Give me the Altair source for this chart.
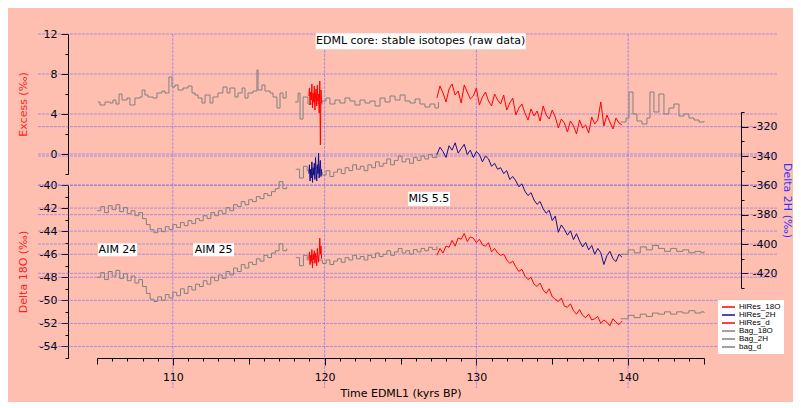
import altair as alt
import pandas as pd

# ---------------- series definitions ----------------
SERIES = ["HiRes_18O", "HiRes_2H", "HiRes_d", "Bag_18O", "Bag_2H", "bag_d"]
COLORS = ["#FF0000", "#10108C", "#FF0000", "#808080", "#808080", "#808080"]

# ---- Bag (low resolution, step) data ----
bagd_t1 = [105.05, 105.2, 105.53, 105.86, 106.05, 106.25, 106.45, 106.65, 106.98, 107.17,
           107.5, 107.83, 107.97, 108.16, 108.36, 108.69, 108.95, 109.28, 109.48, 109.74,
           109.94, 110.14, 110.34, 110.67, 111.0, 111.26, 111.46, 111.66, 111.92, 112.12,
           112.45, 112.64, 112.97, 113.3, 113.57, 113.76, 114.09, 114.29, 114.56, 114.75,
           114.95, 115.28, 115.54, 115.61, 115.87, 116.07, 116.4, 116.6, 116.86, 117.06,
           117.26, 117.46]
bagd_v1 = [5.2, 4.9, 5.2, 5.1, 5.4, 5.0, 6.0, 5.4, 5.6, 4.9,
           5.6, 5.7, 6.4, 5.9, 5.7, 5.6, 6.1, 6.3, 6.1, 7.7,
           6.7, 6.9, 6.4, 6.6, 6.8, 6.1, 5.9, 5.6, 5.1, 5.9,
           5.1, 5.7, 6.1, 6.7, 6.1, 6.6, 5.7, 6.1, 6.6, 5.6,
           6.1, 6.3, 8.4, 6.4, 6.9, 6.3, 6.1, 5.7, 4.6, 6.1,
           5.6, 6.3]
bagd_t2 = [118.05, 118.25, 118.38, 118.58, 118.9, 119.23, 119.56, 119.83, 120.09, 120.35,
           120.68, 121.01, 121.34, 121.67, 122.0, 122.33, 122.66, 122.99, 123.32, 123.65,
           123.98, 124.31, 124.64, 124.97, 125.3, 125.63, 125.96, 126.28, 126.61, 126.94,
           127.27, 127.5]
bagd_v2 = [5.2, 6.1, 3.5, 5.7, 5.0, 5.5, 5.0, 5.3, 5.6, 5.0,
           5.4, 5.1, 5.6, 5.3, 4.9, 5.4, 5.1, 5.3, 4.8, 5.6,
           5.2, 5.8, 5.4, 5.9, 5.3, 5.1, 5.5, 5.0, 4.7, 5.0,
           4.6, 5.2]
bagd_t3 = [139.5, 139.86, 140.06, 140.32, 140.58, 140.91, 141.24, 141.44,
           141.7, 142.03, 142.36, 142.69, 143.02, 143.35, 143.68, 144.01, 144.34, 144.67, 145.0]
bagd_v3 = [3.2, 3.6, 6.2, 4.0, 3.3, 3.0, 3.6, 6.2,
           4.2, 6.0, 4.0, 4.6, 5.0, 3.8, 4.0, 3.6, 3.4, 3.2, 3.3]

bag_t1 = [105.0, 105.25, 105.5, 105.75, 106.0, 106.25, 106.5, 106.75, 107.0, 107.25,
          107.5, 107.75, 108.0, 108.25, 108.5, 108.75, 109.0, 109.25, 109.5, 109.75,
          110.0, 110.25, 110.5, 110.75, 111.0, 111.25, 111.5, 111.75, 112.0, 112.25,
          112.5, 112.75, 113.0, 113.25, 113.5, 113.75, 114.0, 114.25, 114.5, 114.75,
          115.0, 115.25, 115.5, 115.75, 116.0, 116.25, 116.5, 116.75, 117.0, 117.25, 117.5]
bag2h_v1 = [-377.3, -374.5, -378.6, -373.9, -376.6, -373.2, -377.9, -375.2, -379.3, -377.3,
            -380.7, -378.6, -382.7, -386.8, -390.2, -392.3, -389.5, -391.6, -388.2, -390.2,
            -386.8, -388.8, -385.4, -387.5, -384.1, -386.1, -382.7, -384.1, -380.7, -382.7,
            -378.6, -380.7, -377.3, -379.3, -375.2, -377.3, -373.2, -374.5, -371.1, -373.2,
            -369.8, -371.1, -367.7, -369.1, -365.7, -367.0, -364.3, -362.3, -357.5, -362.3, -360.9]
bag18_v1 = [-48.0, -47.6, -48.2, -47.5, -47.9, -47.4, -48.1, -47.7, -48.3, -47.9,
            -48.5, -48.2, -48.8, -49.4, -49.9, -50.1, -49.7, -50.0, -49.5, -49.8,
            -49.3, -49.6, -49.0, -49.4, -48.8, -49.1, -48.6, -48.8, -48.3, -48.6,
            -48.0, -48.3, -47.8, -48.1, -47.5, -47.8, -47.2, -47.5, -46.9, -47.2,
            -46.7, -46.9, -46.4, -46.6, -46.1, -46.3, -45.9, -45.7, -45.1, -45.7, -45.5]

bag_t2 = [118.1, 118.35, 118.6, 118.85, 119.1, 119.35, 119.6, 119.85, 120.1, 120.35,
          120.6, 120.85, 121.1, 121.35, 121.6, 121.85, 122.1, 122.35, 122.6, 122.85,
          123.1, 123.35, 123.6, 123.85, 124.1, 124.35, 124.6, 124.85, 125.1, 125.35,
          125.6, 125.85, 126.1, 126.35, 126.6, 126.85, 127.1, 127.4]
bag2h_v2 = [-349, -355, -347, -350, -352, -348, -351, -353, -350, -354,
            -351, -349, -352, -348, -350, -346, -349, -347, -350, -346,
            -348, -344, -347, -345, -342, -346, -343, -340, -344, -342,
            -345, -341, -343, -340, -342, -339, -341, -338]
bag18_v2 = [-46.3, -47.0, -46.1, -46.5, -46.7, -46.2, -46.5, -46.8, -46.5, -46.9,
            -46.6, -46.4, -46.7, -46.3, -46.5, -46.1, -46.4, -46.2, -46.5, -46.1,
            -46.3, -45.9, -46.2, -46.0, -45.7, -46.1, -45.8, -45.5, -45.9, -45.7,
            -46.0, -45.6, -45.8, -45.5, -45.7, -45.4, -45.6, -45.3]

bag_t3 = [139.5, 140.0, 140.4, 140.8, 141.2, 141.6, 142.0, 142.4, 142.8, 143.2, 143.6,
          144.0, 144.4, 144.8, 145.0]
bag2h_v3 = [-407, -404, -406, -402, -404, -401, -403, -405, -403, -405, -404,
            -406, -405, -406, -405]
bag18_v3 = [-51.6, -51.3, -51.5, -51.2, -51.4, -51.1, -51.2, -51.0, -51.2, -51.0, -51.1,
            -50.9, -51.1, -51.0, -51.1]

# ---- HiRes data ----
hr_t1 = [118.96, 119.0, 119.04, 119.08, 119.12, 119.16, 119.2, 119.24, 119.28, 119.32, 119.36,
         119.4, 119.44, 119.48, 119.52, 119.56, 119.6, 119.64, 119.68, 119.72, 119.76, 119.8]
hrd_v1 = [5.8, 6.6, 4.9, 6.2, 5.4, 7.0, 4.6, 6.1, 5.2, 6.8, 4.4,
          5.9, 6.5, 4.8, 6.9, 5.3, 6.0, 4.1, 7.3, 0.9, 6.4, 5.1]
hr2h_v1 = [-352, -346, -357, -349, -355, -344, -358, -348, -353, -345, -356,
           -341, -350, -357, -346, -352, -338, -355, -347, -343, -354, -349]
hr18_v1 = [-46.4, -45.8, -46.9, -46.1, -46.6, -45.6, -47.2, -46.0, -46.5, -45.7, -46.8,
           -45.9, -46.3, -47.0, -45.5, -46.2, -46.7, -45.9, -44.6, -46.0, -45.3, -46.4]

hr_t2 = [127.4, 127.6, 127.8, 128.0, 128.2, 128.4, 128.6, 128.8, 129.0, 129.2,
         129.4, 129.6, 129.8, 130.0, 130.2, 130.4, 130.6, 130.8, 131.0, 131.2,
         131.4, 131.6, 131.8, 132.0, 132.2, 132.4, 132.6, 132.8, 133.0, 133.2,
         133.4, 133.6, 133.8, 134.0, 134.2, 134.4, 134.6, 134.8, 135.0, 135.2,
         135.4, 135.6, 135.8, 136.0, 136.2, 136.4, 136.6, 136.8, 137.0, 137.2,
         137.4, 137.6, 137.8, 138.0, 138.2, 138.4, 138.6, 138.8, 139.0, 139.2,
         139.4, 139.6]
hrd_v2 = [5.6, 6.8, 6.1, 5.2, 6.5, 7.0, 5.9, 6.3, 5.1, 6.9,
          6.2, 5.5, 5.8, 6.6, 4.9, 5.7, 6.2, 5.3, 4.8, 6.0,
          5.4, 5.0, 5.9, 4.4, 5.1, 5.6, 3.9, 4.6, 5.0, 4.1,
          3.4, 4.5, 3.8, 4.3, 3.3, 4.8, 3.9, 3.5, 4.4, 3.7,
          2.6, 3.5, 3.1, 2.2, 3.3, 2.8, 2.0, 3.4, 2.6, 2.9,
          2.1, 3.7, 3.0, 3.4, 5.2, 2.8, 3.9, 3.2, 2.5, 3.6,
          3.1, 2.9]
hr2h_v2 = [-339, -334, -337, -341, -333, -336, -331, -338, -335, -332,
           -339, -336, -341, -337, -339, -344, -340, -342, -347, -345,
           -349, -348, -352, -350, -356, -354, -357, -361, -359, -364,
           -367, -365, -370, -373, -371, -376, -379, -377, -384, -381,
           -392, -387, -390, -394, -391, -397, -393, -398, -402, -399,
           -404, -401, -407, -403, -406, -414, -408, -405, -410, -412,
           -407, -409]
hr18_v2 = [-46.1, -45.5, -45.9, -45.3, -45.4, -44.8, -45.3, -44.6, -44.7, -44.2,
           -44.9, -44.5, -44.6, -45.0, -44.7, -45.2, -45.3, -45.0, -45.8, -45.5,
           -45.9, -46.1, -46.0, -46.5, -46.8, -46.6, -47.1, -47.5, -47.3, -47.9,
           -48.2, -48.0, -48.6, -48.8, -48.5, -49.1, -49.4, -49.0, -49.7, -49.9,
           -50.1, -49.8, -50.5, -50.6, -50.3, -50.9, -51.2, -50.8, -51.3, -51.5,
           -51.2, -51.7, -51.6, -51.4, -52.0, -51.7, -51.9, -52.2, -51.6, -51.9,
           -52.1, -51.8]

# ---- axes tick values / gridlines ----
X_TICKS = list(range(105, 146))
X_GRID = [110, 120, 130, 140]
EX_TICKS = [-2, 0, 2, 4, 6, 8, 10, 12]
EX_GRID = [0, 4, 8, 12]
O18_TICKS = list(range(-55, -39))
O18_GRID = [-40, -42, -44, -46, -48, -50, -52, -54]
H2_TICKS = list(range(-430, -309, 10))
H2_GRID = [-320, -340, -360, -380, -400, -420]

# ---- annotations (data units) ----
TITLE_LABEL = ["EDML core: stable isotopes (raw data)"]
TITLE_T = [126.33]
TITLE_V = [11.27]
TITLE_BOX = dict(t0=[119.41], t1=[133.25], v0=[10.47], v1=[12.07])
ANN_LABELS = ["MIS 5.5", "AIM 24", "AIM 25"]
ANN_T = [126.87, 106.35, 112.68]
ANN_V = [-41.2, -45.6, -45.6]
ANN_BOX = dict(t0=[125.49, 105.07, 111.33], t1=[128.26, 107.64, 114.03],
               v0=[-41.83, -46.17, -46.17], v1=[-40.58, -45.04, -45.04])

# ---------------- styling ----------------
BG = "#FFBFB0"
GRID = "#5A5AFF"
FONT = "DejaVu Sans"
W, H = 740, 354


def frame(series, segments):
    rows = []
    for k, (ts, vs) in enumerate(segments):
        for t, v in zip(ts, vs):
            rows.append({"t": t, "v": v, "series": series, "seg": f"{series}-{k}"})
    return pd.DataFrame(rows)


ex_bag = frame("bag_d", [(bagd_t1, bagd_v1), (bagd_t2, bagd_v2), (bagd_t3, bagd_v3)])
o18_bag = frame("Bag_18O", [(bag_t1, bag18_v1), (bag_t2, bag18_v2), (bag_t3, bag18_v3)])
h2_bag = frame("Bag_2H", [(bag_t1, bag2h_v1), (bag_t2, bag2h_v2), (bag_t3, bag2h_v3)])
ex_hr = frame("HiRes_d", [(hr_t1, hrd_v1), (hr_t2, hrd_v2)])
o18_hr = frame("HiRes_18O", [(hr_t1, hr18_v1), (hr_t2, hr18_v2)])
h2_hr = frame("HiRes_2H", [(hr_t1, hr2h_v1), (hr_t2, hr2h_v2)])

X_SCALE = alt.Scale(domain=[105, 145], range=[59, 666], nice=False, zero=False)
EX_SCALE = alt.Scale(domain=[-2, 12], range=[140, 0], nice=False, zero=False)
O18_SCALE = alt.Scale(domain=[-55, -40], range=[324, 151], nice=False, zero=False)
H2_SCALE = alt.Scale(domain=[-430, -310], range=[254, 78], nice=False, zero=False)

common_axis = dict(grid=False, domainColor="black", tickColor="black", labelColor="black",
                   labelFont=FONT, labelFontSize=11, labelOverlap=False, labelFlush=False,
                   titleFont=FONT, titleFontSize=11, titleFontWeight="normal",
                   titleBaseline="middle")

x_axis = alt.Axis(orient="bottom", offset=-30, values=X_TICKS,
                  labelExpr="datum.value % 10 == 0 ? toString(datum.value) : ''",
                  tickSize={"condition": [{"test": "datum.value % 10 == 0", "value": 7},
                                          {"test": "datum.value % 5 == 0", "value": 6}],
                            "value": 3},
                  labelPadding=6, title="Time EDML1 (kyrs BP)", titleColor="black",
                  titleY=35, **common_axis)


def y_axis(orient, offset, vals, test, title, color, tx):
    return alt.Axis(orient=orient, offset=offset, values=vals,
                    labelExpr=f"{test} ? toString(datum.value) : ''",
                    tickSize={"condition": {"test": test, "value": 7}, "value": 3},
                    labelPadding=4, title=title, titleColor=color, titleX=tx, **common_axis)


ex_axis = y_axis("left", -30, EX_TICKS, "datum.value % 4 == 0", "Excess (‰)", "#FF2020", -45)
o18_axis = y_axis("left", -30, O18_TICKS, "datum.value % 2 == 0", "Delta 18O (‰)", "#FF2020", -45)
h2_axis = y_axis("right", -37, H2_TICKS, "datum.value % 20 == 0", "Delta 2H (‰)", "#3333FF", 45)

legend = alt.Legend(orient="none", legendX=680, legendY=266, title=None, fillColor="white",
                    padding=3, symbolType="stroke", symbolSize=169, symbolStrokeWidth=1.5,
                    labelFont="Liberation Sans", labelFontSize=8, labelColor="black",
                    clipHeight=8, rowPadding=0, labelOffset=3)
color = alt.Color("series:N", scale=alt.Scale(domain=SERIES, range=COLORS), legend=legend)


def X(field):
    return alt.X(field, scale=X_SCALE, axis=x_axis)


def line_layer(df, yscale, yaxis, interp):
    return alt.Chart(df).mark_line(interpolate=interp, strokeWidth=1).encode(
        x=X("t:Q"),
        y=alt.Y("v:Q", scale=yscale, axis=yaxis),
        color=color,
        detail="seg:N",
    )


def hgrid(vals, yscale):
    return alt.Chart(pd.DataFrame({"v": vals})).mark_rule(
        color=GRID, opacity=0.5, strokeDash=[3, 1], strokeWidth=1).encode(
        y=alt.Y("v:Q", scale=yscale, axis=None), x=alt.value(0), x2=alt.value(W))


vgrid = alt.Chart(pd.DataFrame({"t": X_GRID})).mark_rule(
    color=GRID, opacity=0.5, strokeDash=[3, 1], strokeWidth=1).encode(
    x=X("t:Q"), y=alt.value(0), y2=alt.value(H))

title_df = pd.DataFrame({"label": TITLE_LABEL, "t": TITLE_T, "v": TITLE_V, **TITLE_BOX})
ann_df = pd.DataFrame({"label": ANN_LABELS, "t": ANN_T, "v": ANN_V, **ANN_BOX})


def boxes(df, yscale):
    return alt.Chart(df).mark_rect(color="white").encode(
        x=X("t0:Q"), x2="t1:Q",
        y=alt.Y("v0:Q", scale=yscale, axis=None), y2="v1:Q")


def texts(df, yscale):
    return alt.Chart(df).mark_text(font=FONT, fontSize=11, color="black",
                                   align="center", baseline="middle").encode(
        x=X("t:Q"),
        y=alt.Y("v:Q", scale=yscale, axis=None),
        text="label:N")


chart = alt.layer(
    vgrid,
    hgrid(EX_GRID, EX_SCALE),
    hgrid(O18_GRID, O18_SCALE),
    hgrid(H2_GRID, H2_SCALE),
    line_layer(ex_bag, EX_SCALE, ex_axis, "step-after"),
    line_layer(o18_bag, O18_SCALE, o18_axis, "step-after"),
    line_layer(h2_bag, H2_SCALE, h2_axis, "step-after"),
    line_layer(ex_hr, EX_SCALE, None, "linear"),
    line_layer(o18_hr, O18_SCALE, None, "linear"),
    line_layer(h2_hr, H2_SCALE, None, "linear"),
    boxes(title_df, EX_SCALE),
    texts(title_df, EX_SCALE),
    boxes(ann_df, O18_SCALE),
    texts(ann_df, O18_SCALE),
).resolve_scale(y="independent").properties(
    width=W, height=H, autosize="none",
    padding={"left": 30, "top": 26, "right": 15, "bottom": 14},
    background=BG,
).configure_view(stroke=None)

chart.save("out.html", embed_options={"renderer": "svg", "actions": False})
